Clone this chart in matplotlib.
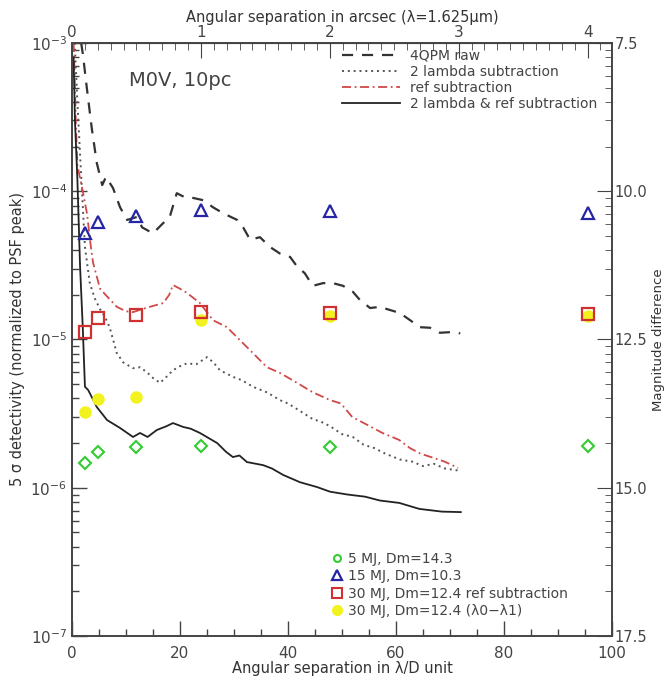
import numpy as np
import matplotlib
matplotlib.use('Agg')
import matplotlib.pyplot as plt
from matplotlib.lines import Line2D
from matplotlib.ticker import LogLocator, FuncFormatter, NullFormatter, MultipleLocator

# lambda/D units per arcsec at 1.625 micron
lod_per_arcsec = 23.87

# contrast curves (x in lambda/D, y = 5 sigma detectivity)
raw_x = [1.7, 2.0, 2.8, 3.7, 4.6, 5.6, 6.3, 7.6, 8.9, 10.2, 12.0, 13.0, 15.0, 16.9, 18.1,
         19.4, 20.9, 21.9, 24.3, 26.1, 28.0, 30.6, 31.7, 33.0, 34.8, 36.7, 38.5, 40.4, 41.7,
         43.1, 44.6, 46.5, 48.3, 50.2, 52.0, 53.3, 55.2, 57.0, 58.9, 60.7, 62.6, 64.4, 66.3,
         68.1, 70.0, 71.9]
raw_y = [1.0e-3, 8.5e-4, 4.8e-4, 2.6e-4, 1.55e-4, 1.1e-4, 1.25e-4, 1.05e-4, 7.8e-5, 6.4e-5,
         6.7e-5, 5.7e-5, 5.2e-5, 6.1e-5, 6.7e-5, 9.7e-5, 9.1e-5, 9.1e-5, 8.7e-5, 7.8e-5,
         7.1e-5, 6.4e-5, 5.7e-5, 4.7e-5, 4.9e-5, 4.2e-5, 3.8e-5, 3.6e-5, 3.1e-5, 2.8e-5,
         2.3e-5, 2.4e-5, 2.4e-5, 2.3e-5, 2.1e-5, 1.85e-5, 1.63e-5, 1.66e-5, 1.58e-5, 1.51e-5,
         1.35e-5, 1.21e-5, 1.2e-5, 1.11e-5, 1.12e-5, 1.1e-5]

twol_x = [0.5, 1.0, 1.6, 2.4, 3.3, 4.2, 5.2, 6.2, 7.0, 7.6, 8.3, 9.5, 11.3, 12.6, 13.9, 15.0,
          16.3, 17.5, 18.7, 20.0, 21.3, 23.0, 25.0, 26.2, 27.4, 29.8, 31.5, 33.5, 36.1, 38.5,
          40.0, 42.2, 44.6, 46.0, 47.8, 50.0, 52.0, 54.0, 56.0, 58.0, 60.7, 63.0, 65.0, 67.0,
          69.0, 71.9]
twol_y = [1.0e-3, 4.0e-4, 1.5e-4, 4.2e-5, 2.4e-5, 1.9e-5, 1.6e-5, 1.4e-5, 1.2e-5, 1.0e-5,
          8.1e-6, 7.0e-6, 6.4e-6, 6.5e-6, 6.0e-6, 5.5e-6, 5.1e-6, 5.6e-6, 6.2e-6, 6.6e-6,
          6.9e-6, 6.8e-6, 7.6e-6, 7.0e-6, 6.2e-6, 5.6e-6, 5.3e-6, 4.8e-6, 4.4e-6, 3.9e-6,
          3.7e-6, 3.3e-6, 2.9e-6, 2.8e-6, 2.6e-6, 2.3e-6, 2.2e-6, 1.95e-6, 1.85e-6, 1.7e-6,
          1.55e-6, 1.5e-6, 1.4e-6, 1.45e-6, 1.35e-6, 1.3e-6]

ref_x = [0.3, 0.5, 0.7, 1.0, 2.0, 2.8, 3.4, 3.9, 5.2, 6.5, 8.3, 10.0, 11.3, 13.0, 14.4, 16.9,
         18.0, 18.7, 20.0, 21.3, 23.7, 26.1, 28.7, 31.1, 33.5, 36.1, 38.5, 40.9, 44.6, 47.8,
         49.8, 51.9, 54.3, 57.4, 60.6, 62.6, 64.5, 66.7, 69.0, 71.5]
ref_y = [1.0e-3, 6.0e-4, 3.0e-4, 1.5e-4, 1.0e-4, 7.0e-5, 4.5e-5, 3.3e-5, 2.2e-5, 1.95e-5,
         1.66e-5, 1.55e-5, 1.53e-5, 1.6e-5, 1.66e-5, 1.76e-5, 2.0e-5, 2.33e-5, 2.2e-5, 2.06e-5,
         1.76e-5, 1.35e-5, 1.21e-5, 9.9e-6, 8.1e-6, 6.5e-6, 5.95e-6, 5.3e-6, 4.4e-6, 3.9e-6,
         3.7e-6, 3.0e-6, 2.7e-6, 2.35e-6, 2.1e-6, 1.85e-6, 1.7e-6, 1.6e-6, 1.5e-6, 1.36e-6]

both_x = [0.3, 0.55, 1.0, 1.5, 2.0, 2.4, 3.0, 4.6, 6.5, 8.9, 11.3, 12.6, 14.0, 15.7, 17.5,
          18.7, 20.6, 22.0, 23.7, 26.9, 28.5, 29.8, 31.0, 32.4, 35.4, 37.0, 39.1, 42.2, 45.4,
          47.8, 51.0, 54.3, 57.0, 60.6, 64.3, 68.5, 72.0]
both_y = [8.0e-4, 3.0e-4, 1.2e-4, 3.1e-5, 1.2e-5, 4.8e-6, 4.56e-6, 3.5e-6, 2.86e-6, 2.53e-6,
          2.2e-6, 2.34e-6, 2.2e-6, 2.45e-6, 2.6e-6, 2.73e-6, 2.57e-6, 2.5e-6, 2.34e-6, 2.0e-6,
          1.75e-6, 1.61e-6, 1.65e-6, 1.49e-6, 1.42e-6, 1.35e-6, 1.22e-6, 1.09e-6, 1.01e-6,
          9.4e-7, 9.0e-7, 8.7e-7, 8.2e-7, 7.9e-7, 7.2e-7, 6.9e-7, 6.85e-7]

# simulated planets
planet_sep_arcsec = [0.1, 0.2, 0.5, 1, 2, 4]
mj5 = [1.47e-6, 1.74e-6, 1.88e-6, 1.9e-6, 1.88e-6, 1.9e-6]
mj15 = [5.2e-5, 6.2e-5, 6.8e-5, 7.5e-5, 7.4e-5, 7.1e-5]
mj30_ref = [1.12e-5, 1.40e-5, 1.46e-5, 1.53e-5, 1.5e-5, 1.49e-5]
mj30_2lambda = [3.24e-6, 3.98e-6, 4.1e-6, 1.36e-5, 1.45e-5, 1.45e-5]

planet_x = np.array(planet_sep_arcsec) * lod_per_arcsec

txt = '#333333'
plt.rcParams['font.family'] = ['DejaVu Sans']
plt.rcParams['text.color'] = txt
plt.rcParams['axes.labelcolor'] = txt
plt.rcParams['xtick.color'] = '#444444'
plt.rcParams['ytick.color'] = '#444444'

fig = plt.figure(figsize=(6.64, 6.81), dpi=100)
ax = fig.add_axes([0.1084, 0.0661, 0.8133, 0.8708])

l1, = ax.plot(raw_x, raw_y, ls=(0, (5, 4)), color='#333333', lw=1.6)
l2, = ax.plot(twol_x, twol_y, ls=(0, (1, 2)), color='#555555', lw=1.4)
l3, = ax.plot(ref_x, ref_y, ls=(0, (5, 2, 1, 2)), color='#d04848', lw=1.3)
l4, = ax.plot(both_x, both_y, ls='-', color='#222222', lw=1.3)

ax.plot(planet_x, mj30_2lambda, 'o', color='#f2f21e', ms=8, mec='#f2f21e', zorder=4)
ax.plot(planet_x, mj5, 'D', mfc='none', mec='#33cc33', mew=1.5, ms=6, zorder=5)
ax.plot(planet_x, mj15, '^', mfc='none', mec='#2525a5', mew=1.6, ms=8, zorder=5)
ax.plot(planet_x, mj30_ref, 's', mfc='none', mec='#d03030', mew=1.6, ms=9, zorder=5)

ax.set_xlim(0, 100)
ax.set_yscale('log')
ax.set_ylim(1e-7, 1e-3)
ax.xaxis.set_major_locator(MultipleLocator(20))
ax.xaxis.set_minor_locator(MultipleLocator(5))
ax.tick_params(which='both', direction='in', top=False, right=False, labelsize=11)
ax.tick_params(which='major', length=11, width=1)
ax.tick_params(which='minor', length=5, width=1)
ax.tick_params(axis='x', pad=7)
ax.set_xlabel('Angular separation in λ/D unit', fontsize=10.5, labelpad=0)
ax.set_ylabel('5 σ detectivity (normalized to PSF peak)', fontsize=10.5, labelpad=4)
for s in ax.spines.values():
    s.set_color('#444444')
    s.set_linewidth(1.2)

ax.text(10.5, 5.6e-4, 'M0V, 10pc', fontsize=14, color='#444444', va='center')

leg1 = ax.legend([l1, l2, l3, l4],
                 ['4QPM raw', '2 lambda subtraction', 'ref subtraction',
                  '2 lambda & ref subtraction'],
                 loc='upper left', bbox_to_anchor=(0.5, 0.99), frameon=False,
                 fontsize=10, handlelength=4.2, handletextpad=0.7, labelspacing=0.15,
                 borderpad=0, borderaxespad=0)
for t in leg1.get_texts():
    t.set_color('#444444')
ax.add_artist(leg1)

handles = [Line2D([], [], ls='none', marker='o', mfc='none', mec='#33cc33', mew=1.5, ms=5),
           Line2D([], [], ls='none', marker='^', mfc='none', mec='#2525a5', mew=1.6, ms=7),
           Line2D([], [], ls='none', marker='s', mfc='none', mec='#d03030', mew=1.5, ms=7),
           Line2D([], [], ls='none', marker='o', color='#f2f21e', ms=7)]
leg2 = ax.legend(handles,
                 ['5 MJ, Dm=14.3', '15 MJ, Dm=10.3', '30 MJ, Dm=12.4 ref subtraction',
                  '30 MJ, Dm=12.4 (λ0−λ1)'],
                 loc='lower left', bbox_to_anchor=(0.48, 0.03), frameon=False,
                 fontsize=10, handlelength=0.8, handletextpad=0.4, labelspacing=0.25,
                 borderpad=0, borderaxespad=0)
for t in leg2.get_texts():
    t.set_color('#444444')

# right axis: magnitude difference
axr = ax.twinx()
axr.set_yscale('log')
axr.set_ylim(1e-7, 1e-3)
axr.yaxis.set_major_locator(LogLocator(base=10))
axr.yaxis.set_major_formatter(FuncFormatter(lambda v, p: f'{-2.5 * np.log10(v):.1f}'))
axr.yaxis.set_minor_formatter(NullFormatter())
axr.tick_params(which='both', direction='in', labelsize=10.5, pad=2)
axr.tick_params(which='major', length=11)
axr.tick_params(which='minor', length=5)
axr.set_ylabel('Magnitude difference', fontsize=9.5, labelpad=3)
for s in axr.spines.values():
    s.set_color('#444444')
    s.set_linewidth(1.2)

# top axis: arcsec
secx = ax.secondary_xaxis('top', functions=(lambda x: x / lod_per_arcsec,
                                            lambda a: a * lod_per_arcsec))
secx.set_xticks([0, 1, 2, 3, 4])
secx.xaxis.set_minor_locator(MultipleLocator(0.1))
secx.tick_params(which='both', direction='in', labelsize=11, pad=2)
secx.tick_params(which='major', length=11)
secx.tick_params(which='minor', length=5)
secx.set_xlabel('Angular separation in arcsec (λ=1.625μm)', fontsize=10.5, labelpad=2)

fig.savefig('out.png', dpi=100)
